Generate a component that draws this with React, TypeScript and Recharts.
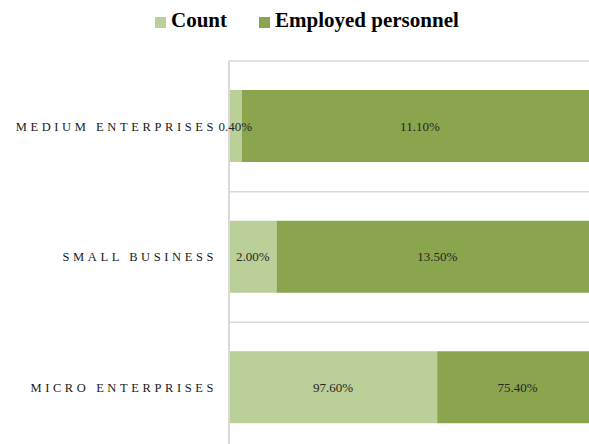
import React from "react";
import {
  BarChart,
  Bar,
  XAxis,
  YAxis,
  CartesianGrid,
  Legend,
  LabelList,
} from "recharts";

const categories = ["MEDIUM ENTERPRISES", "SMALL BUSINESS", "MICRO ENTERPRISES"];
const countValues = [0.4, 2.0, 97.6];
const employedValues = [11.1, 13.5, 75.4];
const seriesNames = ["Count", "Employed personnel"];

const LIGHT = "#BBCF98";
const DARK = "#8AA54E";
const GRID = "#D9D9D9";
const SERIF = "'Liberation Serif', 'Times New Roman', serif";

const data = categories.map((c, i) => ({
  name: c,
  count: countValues[i],
  employed: employedValues[i],
}));

const fmt = (v: any) => `${Number(v).toFixed(2)}%`;

const CategoryTick = (props: any) => {
  const { x, y, payload } = props;
  return (
    <text
      x={x}
      y={y}
      dy="0.35em"
      textAnchor="end"
      fontFamily={SERIF}
      fontSize={12.5}
      letterSpacing={3.6}
      fill="#1a1a1a"
    >
      {payload.value}
    </text>
  );
};

const LegendContent = () => {
  const items = [
    { name: seriesNames[0], color: LIGHT },
    { name: seriesNames[1], color: DARK },
  ];
  return (
    <div
      style={{
        height: 61,
        display: "flex",
        alignItems: "flex-start",
        paddingLeft: 155,
        paddingTop: 10,
        boxSizing: "border-box",
        fontFamily: SERIF,
        fontWeight: "bold",
        fontSize: 21,
        lineHeight: "21px",
        color: "#000",
      }}
    >
      {items.map((it, i) => (
        <div key={it.name} style={{ display: "flex", alignItems: "flex-start", marginRight: i === 0 ? 32 : 0 }}>
          <div style={{ width: 11, height: 11, background: it.color, marginTop: 7, marginRight: 5 }} />
          <span style={{ whiteSpace: "nowrap" }}>{it.name}</span>
        </div>
      ))}
    </div>
  );
};

export default function App() {
  return (
    <div
      style={{
        position: "fixed",
        left: 0,
        top: 0,
        width: 589,
        height: 444,
        overflow: "hidden",
        background: "#fff",
      }}
    >
      <BarChart
        width={598}
        height={453}
        data={data}
        layout="vertical"
        stackOffset="expand"
        margin={{ top: 0, right: 0, bottom: 0, left: 0 }}
      >
        <Legend verticalAlign="top" align="left" content={<LegendContent />} />
        <CartesianGrid
          vertical={false}
          stroke={GRID}
          strokeWidth={1.5}
          horizontalCoordinatesGenerator={({ offset }: any) => {
            const n = categories.length;
            const arr: number[] = [];
            for (let i = 0; i <= n; i++) arr.push(offset.top + (offset.height * i) / n);
            return arr;
          }}
        />
        <XAxis type="number" domain={[0, 1]} hide />
        <YAxis
          type="category"
          dataKey="name"
          width={229}
          axisLine={{ stroke: GRID, strokeWidth: 2 }}
          tickLine={false}
          tickSize={0}
          tickMargin={12}
          tick={<CategoryTick />}
          interval={0}
        />
        <Bar dataKey="count" name={seriesNames[0]} stackId="a" fill={LIGHT} barSize={72} isAnimationActive={false}>
          <LabelList dataKey="count" position="center" formatter={fmt} fontFamily={SERIF} fontSize={13} fill="#262626" />
        </Bar>
        <Bar dataKey="employed" name={seriesNames[1]} stackId="a" fill={DARK} barSize={72} isAnimationActive={false}>
          <LabelList dataKey="employed" position="center" formatter={fmt} fontFamily={SERIF} fontSize={13} fill="#262626" />
        </Bar>
      </BarChart>
    </div>
  );
}
